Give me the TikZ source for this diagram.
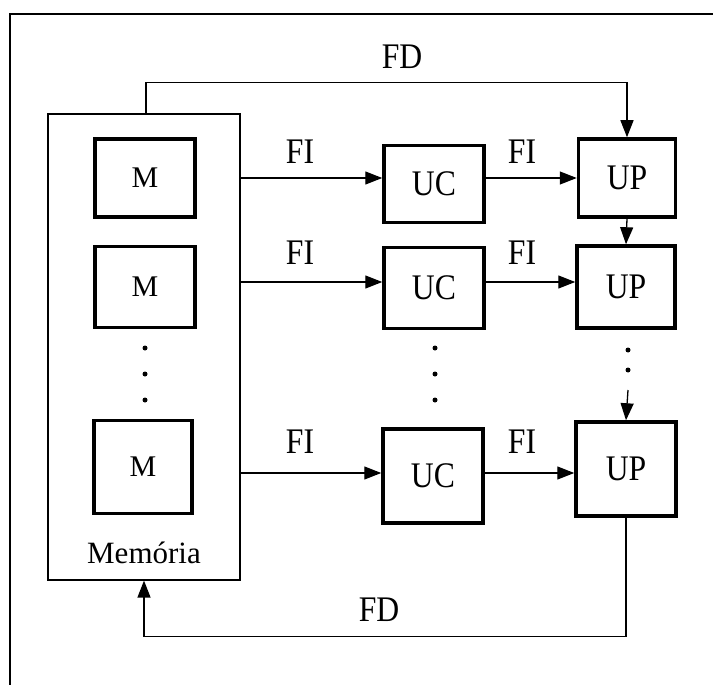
\documentclass[tikz,border=0pt]{standalone}
\usepackage{fontspec}
\setmainfont{Liberation Serif}
\newfontfamily\narrowserif[FakeStretch=0.88]{Liberation Serif}
\usetikzlibrary{positioning, arrows.meta}

\begin{document}
\begin{tikzpicture}[
  x=1pt, y=-1pt,
  font=\narrowserif\fontsize{36}{38}\selectfont,
  unit/.style={draw, line width=3.5pt, minimum width=98pt, minimum height=80pt,
               inner sep=0pt},
  memunit/.style={unit, font=\rmfamily\fontsize{30}{32}\selectfont},
  membox/.style={draw, line width=1.2pt, minimum width=192pt, minimum height=466pt,
                 inner sep=0pt},
  flow/.style={-{Triangle[length=17pt, width=13pt]}, line width=1.3pt},
  wire/.style={line width=1.2pt},
  lab/.style={},
  dot/.style={circle, fill, inner sep=0pt, minimum size=5pt},
]
\useasboundingbox (0,0) rectangle (713,685);
\draw[wire] (10,685) -- (10,14) -- (713,14);

% memoria
\node[membox] (mem) at (144,347) {};
\node[memunit, minimum width=100pt, minimum height=78pt] (m1) at (145,178) {M};
\node[memunit, minimum width=100pt, minimum height=81pt] (m2) at (145,287) {M};
\node[memunit, minimum width=98pt, minimum height=93pt] (m3) at (143,467) {M};
\node[font=\rmfamily\fontsize{31}{33}\selectfont] (mlab) at (144,553) {Memória};

% unidades de controle e de processamento
\node[unit, minimum width=100pt, minimum height=77pt] (uc1) at (434,184) {UC};
\node[unit, minimum width=100pt, minimum height=81pt] (uc2) at (434,288) {UC};
\node[unit, minimum width=100pt, minimum height=94pt] (uc3) at (433,476) {UC};
\node[unit, minimum width=97pt, minimum height=78pt] (up1) at (627,178) {UP};
\node[unit, minimum width=98pt, minimum height=82pt] (up2) at (626,287) {UP};
\node[unit, minimum width=100pt, minimum height=94pt] (up3) at (626,469) {UP};

% reticencias
\foreach \yy [count=\i] in {348,374,400} {
  \node[dot] (dm\i) at (145,\yy) {};
  \node[dot] (du\i) at (435,\yy) {};
}
\node[dot] (dp1) at (628,350) {};
\node[dot] (dp2) at (628,370) {};
\coordinate (dp3) at (628,390);

% fluxos de instrucoes
\draw[flow] (mem.east |- up1) -- (uc1.west |- up1);
\draw[flow] (mem.east |- 0,282) -- (uc2.west |- 0,282);
\draw[flow] (mem.east |- 0,473) -- (uc3.west |- 0,473);
\draw[flow] (uc1.east |- up1) -- (up1.west);
\draw[flow] (uc2.east |- 0,282) -- (up2.west |- 0,282);
\draw[flow] (uc3.east |- 0,473) -- (up3.west |- 0,473);
\node[lab] (fi1) at (300,152) {FI};
\node[lab] (fi2) at (522,152) {FI};
\node[lab] (fi3) at (300,253) {FI};
\node[lab] (fi4) at (522,253) {FI};
\node[lab] (fi5) at (300,442) {FI};
\node[lab] (fi6) at (522,442) {FI};

% fluxos de dados
\draw[flow] (up1.south) -- (up2.north);
\draw[flow] (dp3) -- (up3.north);
\draw[flow] (mem.north -| 146,0) -- ++(0,-31) -| (up1.north);
\draw[flow] (up3.south) -- ++(0,119) -| (mem.south);
\node[lab] (fd1) at (402,57) {FD};
\node[lab] (fd2) at (379,610) {FD};
\end{tikzpicture}
\end{document}
